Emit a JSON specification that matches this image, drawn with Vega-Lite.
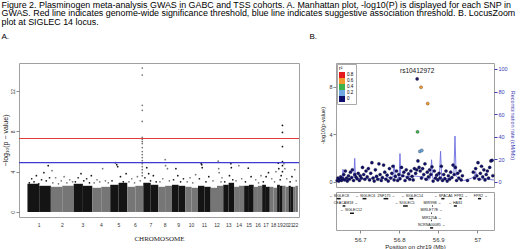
{
"$schema":"https://vega.github.io/schema/vega-lite/v6.json",
"padding":0,
"background":"white",
"config":{"font":"Liberation Sans","view":{"stroke":"#a0a0a0"},"axis":{"grid":false,"domain":false,"tickColor":"#888","labelColor":"#333","titleColor":"#222","titleFontWeight":"normal","tickSize":3,"labelPadding":1}},
"title":{"text":["Figure 2. Plasminogen meta-analysis GWAS in GABC and TSS cohorts.  A. Manhattan plot, -log10(P) is displayed for each SNP in","GWAS.  Red line indicates genome-wide significance threshold, blue line indicates suggestive association threshold. B. LocusZoom","plot at SIGLEC 14 locus."],"anchor":"start","frame":"bounds","fontSize":8.9,"fontWeight":"normal","lineHeight":8.5,"offset":6,"color":"#000","dx":1},
"datasets":{
"genes":[
{"label":"← SIGLEC8","mid":56.646,"start":56.640,"end":56.650,"row":1},
{"label":"← SIGLEC6","mid":56.713,"start":56.706,"end":56.716,"row":1},
{"label":"ZNF175 →","mid":56.767,"start":56.760,"end":56.772,"row":1},
{"label":"← SIGLEC14","mid":56.833,"start":56.826,"end":56.836,"row":1},
{"label":"← SPACA6","mid":56.913,"start":56.908,"end":56.916,"row":1},
{"label":"FPR1 ←","mid":56.959,"start":56.954,"end":56.960,"row":1},
{"label":"FPR2 →","mid":57.009,"start":57.002,"end":57.010,"row":1},
{"label":"CEACAM18 →","mid":56.663,"start":56.655,"end":56.662,"row":2},
{"label":"← SIGLEC5","mid":56.814,"start":56.810,"end":56.822,"row":2},
{"label":"MIR99B →","mid":56.885,"start":56.884,"end":56.886,"row":2},
{"label":"← HAS1","mid":56.944,"start":56.940,"end":56.948,"row":2},
{"label":"← SIGLEC12","mid":56.677,"start":56.674,"end":56.684,"row":3},
{"label":"MIRLET7E →","mid":56.883,"start":56.882,"end":56.884,"row":3},
{"label":"MIR125A →","mid":56.883,"start":56.882,"end":56.884,"row":4},
{"label":"NCRNA00085 →","mid":56.883,"start":56.879,"end":56.887,"row":5}
]
},
"spacing":8,
"resolve":{"scale":{"color":"independent","fill":"independent","x":"independent","y":"independent"},"legend":{"color":"independent","fill":"independent"}},
"hconcat":[
{
"title":{"text":"A.","anchor":"start","fontSize":8,"fontWeight":"normal","offset":22,"frame":"bounds","color":"#000","dx":1},
"spacing":0,
"vconcat":[
{"width":280,"height":154,
"layer":[
{"data":{"values":[
{"chr":1,"band":"odd","x1":0,"x2":125,"h":2.8},{"chr":1,"band":"odd","x1":125,"x2":249,"h":2.6},
{"chr":2,"band":"even","x1":249,"x2":370,"h":2.5},{"chr":2,"band":"even","x1":370,"x2":492,"h":2.6},
{"chr":3,"band":"odd","x1":492,"x2":590,"h":2.8},{"chr":3,"band":"odd","x1":590,"x2":690,"h":2.6},
{"chr":4,"band":"even","x1":690,"x2":785,"h":2.4},{"chr":4,"band":"even","x1":785,"x2":881,"h":2.5},
{"chr":5,"band":"odd","x1":881,"x2":970,"h":2.7},{"chr":5,"band":"odd","x1":970,"x2":1062,"h":2.9},
{"chr":6,"band":"even","x1":1062,"x2":1148,"h":2.5},{"chr":6,"band":"even","x1":1148,"x2":1233,"h":2.6},
{"chr":7,"band":"odd","x1":1233,"x2":1312,"h":2.9},{"chr":7,"band":"odd","x1":1312,"x2":1392,"h":2.7},
{"chr":8,"band":"even","x1":1392,"x2":1465,"h":2.5},{"chr":8,"band":"even","x1":1465,"x2":1538,"h":2.6},
{"chr":9,"band":"odd","x1":1538,"x2":1608,"h":2.7},{"chr":9,"band":"odd","x1":1608,"x2":1679,"h":2.6},
{"chr":10,"band":"even","x1":1679,"x2":1747,"h":2.5},{"chr":10,"band":"even","x1":1747,"x2":1815,"h":2.4},
{"chr":11,"band":"odd","x1":1815,"x2":1882,"h":2.6},{"chr":11,"band":"odd","x1":1882,"x2":1950,"h":2.5},
{"chr":12,"band":"even","x1":1950,"x2":2017,"h":2.4},{"chr":12,"band":"even","x1":2017,"x2":2084,"h":2.6},
{"chr":13,"band":"odd","x1":2084,"x2":2141,"h":2.7},{"chr":13,"band":"odd","x1":2141,"x2":2199,"h":2.9},
{"chr":14,"band":"even","x1":2199,"x2":2252,"h":2.5},{"chr":14,"band":"even","x1":2252,"x2":2306,"h":2.6},
{"chr":15,"band":"odd","x1":2306,"x2":2357,"h":2.6},{"chr":15,"band":"odd","x1":2357,"x2":2408,"h":2.7},
{"chr":16,"band":"even","x1":2408,"x2":2453,"h":2.5},{"chr":16,"band":"even","x1":2453,"x2":2498,"h":2.6},
{"chr":17,"band":"odd","x1":2498,"x2":2538,"h":2.7},{"chr":17,"band":"odd","x1":2538,"x2":2579,"h":2.5},
{"chr":18,"band":"even","x1":2579,"x2":2618,"h":2.5},{"chr":18,"band":"even","x1":2618,"x2":2657,"h":2.4},
{"chr":19,"band":"odd","x1":2657,"x2":2686,"h":2.7},{"chr":19,"band":"odd","x1":2686,"x2":2716,"h":2.6},
{"chr":20,"band":"even","x1":2716,"x2":2747,"h":2.6},{"chr":20,"band":"even","x1":2747,"x2":2779,"h":2.5},
{"chr":21,"band":"odd","x1":2779,"x2":2803,"h":2.6},{"chr":21,"band":"odd","x1":2803,"x2":2827,"h":2.5},
{"chr":22,"band":"even","x1":2827,"x2":2852,"h":2.5},{"chr":22,"band":"even","x1":2852,"x2":2878,"h":2.6}
]},
"mark":{"type":"rect"},
"encoding":{
"x":{"field":"x1","type":"quantitative","scale":{"domain":[-90,2890],"nice":false,"zero":false},"axis":null},
"x2":{"field":"x2"},
"y":{"field":"h","type":"quantitative","scale":{"domain":[-0.5,14.8],"nice":false,"zero":false},
"axis":{"values":[0,1,2,3,4,5,6,7,8,9,10,11,12,13,14],"labelExpr":"datum.value % 2 === 0 ? datum.label : ''","labelAngle":270,"labelFontSize":5,"labelOverlap":false,"title":"−log₁₀(p − value)","titleFontSize":7,"titlePadding":2}},
"y2":{"datum":0},
"color":{"field":"band","type":"nominal","scale":{"domain":["odd","even"],"range":["#141414","#767676"]},"legend":null}
}},
{"data":{"values":[
{"band":"odd","pos":20,"p":2.9},{"band":"odd","pos":45,"p":3.3},{"band":"odd","pos":70,"p":3.0},{"band":"odd","pos":95,"p":3.6},{"band":"odd","pos":120,"p":2.8},{"band":"odd","pos":150,"p":3.2},{"band":"odd","pos":175,"p":3.9},{"band":"odd","pos":200,"p":3.1},{"band":"odd","pos":221,"p":4.6},{"band":"odd","pos":235,"p":3.4},
{"band":"even","pos":262,"p":4.1},{"band":"even","pos":270,"p":2.9},{"band":"even","pos":300,"p":3.4},{"band":"even","pos":330,"p":2.8},{"band":"even","pos":360,"p":3.1},{"band":"even","pos":390,"p":3.5},{"band":"even","pos":420,"p":2.9},{"band":"even","pos":450,"p":3.2},{"band":"even","pos":480,"p":3.0},
{"band":"odd","pos":510,"p":3.0},{"band":"odd","pos":540,"p":3.4},{"band":"odd","pos":570,"p":3.8},{"band":"odd","pos":600,"p":3.1},{"band":"odd","pos":630,"p":3.3},{"band":"odd","pos":660,"p":2.9},{"band":"odd","pos":680,"p":3.6},
{"band":"even","pos":710,"p":2.9},{"band":"even","pos":740,"p":3.2},{"band":"even","pos":770,"p":3.0},{"band":"even","pos":800,"p":4.3},{"band":"even","pos":830,"p":3.1},{"band":"even","pos":860,"p":2.9},
{"band":"odd","pos":900,"p":3.1},{"band":"odd","pos":935,"p":4.9},{"band":"odd","pos":950,"p":4.7},{"band":"odd","pos":960,"p":4.5},{"band":"odd","pos":990,"p":3.5},{"band":"odd","pos":1020,"p":3.0},{"band":"odd","pos":1050,"p":3.8},
{"band":"even","pos":1080,"p":3.0},{"band":"even","pos":1110,"p":3.3},{"band":"even","pos":1140,"p":2.9},{"band":"even","pos":1170,"p":3.5},{"band":"even","pos":1200,"p":3.1},
{"band":"even","pos":1222,"p":14.3},{"band":"even","pos":1222,"p":13.6},{"band":"even","pos":1222,"p":10.6},{"band":"even","pos":1222,"p":10.1},{"band":"even","pos":1222,"p":9.0},{"band":"even","pos":1222,"p":7.4},{"band":"even","pos":1222,"p":7.2},{"band":"even","pos":1222,"p":7.0},{"band":"even","pos":1222,"p":6.8},{"band":"even","pos":1222,"p":6.4},{"band":"even","pos":1222,"p":6.0},{"band":"even","pos":1222,"p":5.7},{"band":"even","pos":1222,"p":5.4},{"band":"even","pos":1222,"p":5.1},{"band":"even","pos":1222,"p":4.8},{"band":"even","pos":1222,"p":4.5},{"band":"even","pos":1222,"p":4.2},{"band":"even","pos":1222,"p":3.9},{"band":"even","pos":1222,"p":3.6},
{"band":"odd","pos":1250,"p":3.4},{"band":"odd","pos":1270,"p":4.4},{"band":"odd","pos":1290,"p":3.8},{"band":"odd","pos":1310,"p":3.1},{"band":"odd","pos":1340,"p":3.6},{"band":"odd","pos":1370,"p":3.0},
{"band":"even","pos":1410,"p":3.0},{"band":"even","pos":1440,"p":3.3},{"band":"even","pos":1466,"p":5.2},{"band":"even","pos":1470,"p":4.6},{"band":"even","pos":1490,"p":4.3},{"band":"even","pos":1510,"p":3.1},
{"band":"odd","pos":1555,"p":3.2},{"band":"odd","pos":1580,"p":4.3},{"band":"odd","pos":1600,"p":3.6},{"band":"odd","pos":1630,"p":3.0},{"band":"odd","pos":1660,"p":3.3},
{"band":"even","pos":1700,"p":3.0},{"band":"even","pos":1730,"p":3.4},{"band":"even","pos":1760,"p":2.9},{"band":"even","pos":1790,"p":3.7},
{"band":"odd","pos":1830,"p":3.3},{"band":"odd","pos":1850,"p":4.8},{"band":"odd","pos":1855,"p":4.7},{"band":"odd","pos":1860,"p":4.4},{"band":"odd","pos":1900,"p":3.0},{"band":"odd","pos":1930,"p":3.5},
{"band":"even","pos":1975,"p":3.1},{"band":"even","pos":2030,"p":5.05},{"band":"even","pos":2035,"p":4.3},{"band":"even","pos":2040,"p":3.9},{"band":"even","pos":2060,"p":3.0},{"band":"even","pos":2070,"p":3.4},
{"band":"odd","pos":2100,"p":3.0},{"band":"odd","pos":2150,"p":3.6},{"band":"odd","pos":2165,"p":4.8},{"band":"odd","pos":2170,"p":4.4},{"band":"odd","pos":2185,"p":3.2},
{"band":"even","pos":2220,"p":3.1},{"band":"even","pos":2250,"p":4.6},{"band":"even","pos":2280,"p":3.3},
{"band":"odd","pos":2320,"p":3.0},{"band":"odd","pos":2350,"p":4.35},{"band":"odd","pos":2380,"p":3.5},
{"band":"even","pos":2430,"p":3.2},{"band":"even","pos":2460,"p":2.9},{"band":"even","pos":2485,"p":3.6},
{"band":"odd","pos":2510,"p":3.0},{"band":"odd","pos":2540,"p":3.5},{"band":"odd","pos":2565,"p":3.9},
{"band":"even","pos":2600,"p":3.3},{"band":"even","pos":2630,"p":3.0},{"band":"even","pos":2645,"p":4.0},
{"band":"odd","pos":2670,"p":4.85},{"band":"odd","pos":2675,"p":4.3},{"band":"odd","pos":2690,"p":3.2},{"band":"odd","pos":2700,"p":3.6},
{"band":"odd","pos":2714,"p":8.6},{"band":"odd","pos":2714,"p":7.9},{"band":"odd","pos":2714,"p":6.5},{"band":"odd","pos":2714,"p":5.0},{"band":"odd","pos":2714,"p":4.6},{"band":"odd","pos":2714,"p":4.0},
{"band":"even","pos":2730,"p":4.8},{"band":"even","pos":2740,"p":4.3},{"band":"even","pos":2760,"p":3.3},
{"band":"odd","pos":2795,"p":3.0},{"band":"odd","pos":2815,"p":3.5},
{"band":"even","pos":2845,"p":4.2},{"band":"even","pos":2860,"p":3.1}
]},
"mark":{"type":"circle","size":3,"opacity":1},
"encoding":{"x":{"field":"pos","type":"quantitative"},"y":{"field":"p","type":"quantitative"},"color":{"field":"band","type":"nominal","legend":null}}},
{"data":{"values":[{"level":"genome-wide","p":7.3}]},
"mark":{"type":"rule","strokeWidth":1.1},
"encoding":{"y":{"field":"p","type":"quantitative"},"stroke":{"value":"#e23c3c"},"strokeOpacity":{"value":1}}},
{"data":{"values":[{"level":"suggestive","p":4.9}]},
"mark":{"type":"rule","strokeWidth":1.1},
"encoding":{"y":{"field":"p","type":"quantitative"},"stroke":{"value":"#3c3cd2"},"strokeOpacity":{"value":1}}}
]},
{"width":280,"height":14,"view":{"stroke":null},
"data":{"values":[{"chr":"1","mid":125},{"chr":"2","mid":371},{"chr":"3","mid":591},{"chr":"4","mid":786},{"chr":"5","mid":972},{"chr":"6","mid":1148},{"chr":"7","mid":1313},{"chr":"8","mid":1465},{"chr":"9","mid":1609},{"chr":"10","mid":1747},{"chr":"11","mid":1883},{"chr":"12","mid":2017},{"chr":"13","mid":2142},{"chr":"14","mid":2253},{"chr":"15","mid":2357},{"chr":"16","mid":2453},{"chr":"17","mid":2539},{"chr":"18","mid":2618},{"chr":"19","mid":2687},{"chr":"20","mid":2748},{"chr":"21","mid":2803},{"chr":"22","mid":2853}]},
"mark":{"type":"text","fontSize":5,"color":"#333"},
"encoding":{
"x":{"field":"mid","type":"quantitative","scale":{"domain":[-90,2890],"nice":false,"zero":false},"axis":{"labels":false,"ticks":false,"domain":false,"title":"CHROMOSOME","titleFontSize":7,"titlePadding":2,"titleFont":"Liberation Sans Narrow"}},
"text":{"field":"chr"}
}}
]
},
{
"title":{"text":"B.","anchor":"start","fontSize":8,"fontWeight":"normal","offset":22,"frame":"bounds","dx":-11,"color":"#000"},
"spacing":3,
"resolve":{"scale":{"fill":"independent"},"legend":{"fill":"independent"}},
"vconcat":[
{"width":158,"height":124,
"layer":[
{"data":{"values":[
{"pos":56.638,"rate":1},{"pos":56.645,"rate":2},{"pos":56.650,"rate":1},{"pos":56.654,"rate":3},{"pos":56.656,"rate":11},{"pos":56.658,"rate":2},{"pos":56.665,"rate":1.5},{"pos":56.672,"rate":2},{"pos":56.680,"rate":3},{"pos":56.684,"rate":6},{"pos":56.686,"rate":20.7},{"pos":56.688,"rate":4},{"pos":56.695,"rate":3},{"pos":56.705,"rate":2.5},{"pos":56.715,"rate":3},{"pos":56.725,"rate":2},{"pos":56.735,"rate":4},{"pos":56.745,"rate":3},{"pos":56.755,"rate":2.5},{"pos":56.765,"rate":3},{"pos":56.775,"rate":4},{"pos":56.783,"rate":3},{"pos":56.787,"rate":15},{"pos":56.790,"rate":4},{"pos":56.797,"rate":3},{"pos":56.800,"rate":5},{"pos":56.802,"rate":25},{"pos":56.804,"rate":5},{"pos":56.812,"rate":5},{"pos":56.825,"rate":4.5},{"pos":56.840,"rate":5},{"pos":56.855,"rate":4.5},{"pos":56.862,"rate":4.5},{"pos":56.866,"rate":2},{"pos":56.875,"rate":1.5},{"pos":56.880,"rate":3},{"pos":56.883,"rate":19.5},{"pos":56.886,"rate":3},{"pos":56.895,"rate":2},{"pos":56.903,"rate":4},{"pos":56.906,"rate":27},{"pos":56.909,"rate":3},{"pos":56.915,"rate":2},{"pos":56.925,"rate":3},{"pos":56.935,"rate":4},{"pos":56.940,"rate":6},{"pos":56.943,"rate":40.5},{"pos":56.946,"rate":5},{"pos":56.955,"rate":2},{"pos":56.965,"rate":1},{"pos":56.975,"rate":2},{"pos":56.985,"rate":3},{"pos":56.993,"rate":5},{"pos":56.996,"rate":9},{"pos":56.999,"rate":3},{"pos":57.010,"rate":2},{"pos":57.020,"rate":3},{"pos":57.030,"rate":2},{"pos":57.043,"rate":1.5}
]},
"mark":{"type":"line","color":"#6d6de0","strokeWidth":0.9},
"encoding":{
"x":{"field":"pos","type":"quantitative","scale":{"domain":[56.638,57.043],"nice":false,"zero":false},"axis":null},
"y":{"field":"rate","type":"quantitative","scale":{"domain":[-4.7,105.3],"nice":false,"zero":false},"axis":{"orient":"right","values":[0,20,40,60,80,100],"title":"Recombination rate (cM/Mb)","labelColor":"#3c3cb4","titleColor":"#3c3cb4","tickColor":"#3c3cb4","labelFontSize":5.5,"titleFontSize":5.5,"titlePadding":2}}
}},
{"layer":[
{"data":{"values":[
{"pos":56.641,"p":0.1,"ld":"0-0.2"},{"pos":56.643,"p":0.3,"ld":"0-0.2"},{"pos":56.645,"p":0.05,"ld":"0-0.2"},{"pos":56.648,"p":0.2,"ld":"0-0.2"},{"pos":56.650,"p":0.4,"ld":"0-0.2"},{"pos":56.652,"p":0.1,"ld":"0-0.2"},{"pos":56.655,"p":0.25,"ld":"0-0.2"},{"pos":56.658,"p":0.6,"ld":"0-0.2"},{"pos":56.660,"p":0.15,"ld":"0-0.2"},{"pos":56.662,"p":0.9,"ld":"0-0.2"},{"pos":56.665,"p":0.3,"ld":"0-0.2"},{"pos":56.667,"p":0.05,"ld":"0-0.2"},{"pos":56.670,"p":0.5,"ld":"0-0.2"},{"pos":56.672,"p":0.2,"ld":"0-0.2"},{"pos":56.675,"p":0.8,"ld":"0-0.2"},{"pos":56.678,"p":0.35,"ld":"0-0.2"},{"pos":56.680,"p":1.0,"ld":"0-0.2"},{"pos":56.683,"p":0.1,"ld":"0-0.2"},{"pos":56.686,"p":0.6,"ld":"0-0.2"},{"pos":56.689,"p":0.4,"ld":"0-0.2"},{"pos":56.692,"p":0.25,"ld":"0-0.2"},{"pos":56.695,"p":0.7,"ld":"0-0.2"},{"pos":56.698,"p":0.1,"ld":"0-0.2"},{"pos":56.700,"p":0.5,"ld":"0-0.2"},{"pos":56.703,"p":0.3,"ld":"0-0.2"},{"pos":56.706,"p":1.2,"ld":"0-0.2"},{"pos":56.709,"p":0.6,"ld":"0-0.2"},{"pos":56.712,"p":0.2,"ld":"0-0.2"},{"pos":56.715,"p":0.9,"ld":"0-0.2"},{"pos":56.718,"p":0.4,"ld":"0-0.2"},{"pos":56.721,"p":1.1,"ld":"0-0.2"},{"pos":56.724,"p":0.15,"ld":"0-0.2"},{"pos":56.727,"p":0.7,"ld":"0-0.2"},{"pos":56.730,"p":1.6,"ld":"0-0.2"},{"pos":56.733,"p":0.3,"ld":"0-0.2"},{"pos":56.736,"p":0.05,"ld":"0-0.2"},{"pos":56.739,"p":1.0,"ld":"0-0.2"},{"pos":56.742,"p":0.45,"ld":"0-0.2"},{"pos":56.745,"p":0.2,"ld":"0-0.2"},{"pos":56.748,"p":1.5,"ld":"0-0.2"},{"pos":56.751,"p":0.6,"ld":"0-0.2"},{"pos":56.754,"p":0.1,"ld":"0-0.2"},{"pos":56.757,"p":0.35,"ld":"0-0.2"},{"pos":56.760,"p":1.4,"ld":"0-0.2"},{"pos":56.763,"p":0.8,"ld":"0-0.2"},{"pos":56.766,"p":0.2,"ld":"0-0.2"},{"pos":56.769,"p":0.55,"ld":"0-0.2"},{"pos":56.772,"p":0.05,"ld":"0-0.2"},{"pos":56.775,"p":1.1,"ld":"0-0.2"},{"pos":56.778,"p":0.3,"ld":"0-0.2"},{"pos":56.781,"p":0.7,"ld":"0-0.2"},{"pos":56.784,"p":1.3,"ld":"0-0.2"},{"pos":56.787,"p":0.15,"ld":"0-0.2"},{"pos":56.790,"p":0.45,"ld":"0-0.2"},{"pos":56.793,"p":0.9,"ld":"0-0.2"},{"pos":56.796,"p":0.1,"ld":"0-0.2"},{"pos":56.799,"p":0.6,"ld":"0-0.2"},{"pos":56.802,"p":0.25,"ld":"0-0.2"},{"pos":56.806,"p":1.2,"ld":"0-0.2"},{"pos":56.809,"p":0.5,"ld":"0-0.2"},{"pos":56.812,"p":0.8,"ld":"0-0.2"},{"pos":56.815,"p":0.1,"ld":"0-0.2"},{"pos":56.818,"p":1.0,"ld":"0-0.2"},{"pos":56.821,"p":0.35,"ld":"0-0.2"},{"pos":56.824,"p":0.65,"ld":"0-0.2"},{"pos":56.827,"p":0.2,"ld":"0-0.2"},{"pos":56.830,"p":0.9,"ld":"0-0.2"},{"pos":56.833,"p":0.45,"ld":"0-0.2"},{"pos":56.836,"p":0.15,"ld":"0-0.2"},{"pos":56.839,"p":1.1,"ld":"0-0.2"},{"pos":56.842,"p":0.7,"ld":"0-0.2"},{"pos":56.845,"p":1.0,"ld":"0-0.2"},{"pos":56.848,"p":1.75,"ld":"0-0.2"},{"pos":56.851,"p":1.2,"ld":"0-0.2"},{"pos":56.854,"p":0.9,"ld":"0-0.2"},{"pos":56.857,"p":0.3,"ld":"0-0.2"},{"pos":56.860,"p":1.1,"ld":"0-0.2"},{"pos":56.863,"p":0.6,"ld":"0-0.2"},{"pos":56.866,"p":1.5,"ld":"0-0.2"},{"pos":56.869,"p":0.2,"ld":"0-0.2"},{"pos":56.872,"p":0.8,"ld":"0-0.2"},{"pos":56.875,"p":0.4,"ld":"0-0.2"},{"pos":56.878,"p":1.0,"ld":"0-0.2"},{"pos":56.881,"p":0.6,"ld":"0-0.2"},{"pos":56.884,"p":1.25,"ld":"0-0.2"},{"pos":56.887,"p":0.05,"ld":"0-0.2"},{"pos":56.890,"p":0.9,"ld":"0-0.2"},{"pos":56.893,"p":0.3,"ld":"0-0.2"},{"pos":56.896,"p":0.55,"ld":"0-0.2"},{"pos":56.899,"p":0.15,"ld":"0-0.2"},{"pos":56.902,"p":0.7,"ld":"0-0.2"},{"pos":56.905,"p":0.3,"ld":"0-0.2"},{"pos":56.908,"p":1.3,"ld":"0-0.2"},{"pos":56.911,"p":0.1,"ld":"0-0.2"},{"pos":56.914,"p":0.6,"ld":"0-0.2"},{"pos":56.917,"p":0.25,"ld":"0-0.2"},{"pos":56.920,"p":0.9,"ld":"0-0.2"},{"pos":56.923,"p":0.05,"ld":"0-0.2"},{"pos":56.926,"p":0.5,"ld":"0-0.2"},{"pos":56.929,"p":0.2,"ld":"0-0.2"},{"pos":56.932,"p":0.8,"ld":"0-0.2"},{"pos":56.935,"p":0.35,"ld":"0-0.2"},{"pos":56.938,"p":1.4,"ld":"0-0.2"},{"pos":56.941,"p":0.6,"ld":"0-0.2"},{"pos":56.944,"p":1.2,"ld":"0-0.2"},{"pos":56.947,"p":0.1,"ld":"0-0.2"},{"pos":56.950,"p":0.7,"ld":"0-0.2"},{"pos":56.953,"p":0.3,"ld":"0-0.2"},{"pos":56.956,"p":0.9,"ld":"0-0.2"},{"pos":56.959,"p":0.15,"ld":"0-0.2"},{"pos":56.962,"p":0.5,"ld":"0-0.2"},{"pos":56.975,"p":0.1,"ld":"0-0.2"},{"pos":56.990,"p":0.8,"ld":"0-0.2"},{"pos":56.993,"p":0.3,"ld":"0-0.2"},{"pos":56.996,"p":1.1,"ld":"0-0.2"},{"pos":56.999,"p":0.5,"ld":"0-0.2"},{"pos":57.002,"p":1.6,"ld":"0-0.2"},{"pos":57.005,"p":0.2,"ld":"0-0.2"},{"pos":57.008,"p":0.7,"ld":"0-0.2"},{"pos":57.011,"p":1.3,"ld":"0-0.2"},{"pos":57.014,"p":0.4,"ld":"0-0.2"},{"pos":57.017,"p":1.0,"ld":"0-0.2"},{"pos":57.020,"p":0.15,"ld":"0-0.2"},{"pos":57.023,"p":0.6,"ld":"0-0.2"},{"pos":57.026,"p":0.9,"ld":"0-0.2"},{"pos":57.029,"p":0.3,"ld":"0-0.2"},{"pos":57.032,"p":1.2,"ld":"0-0.2"},{"pos":57.035,"p":1.75,"ld":"0-0.2"},{"pos":57.038,"p":1.8,"ld":"0-0.2"},{"pos":57.040,"p":0.5,"ld":"0-0.2"},
{"pos":56.853,"p":2.55,"ld":"0.2-0.4"},{"pos":56.858,"p":2.63,"ld":"0.2-0.4"},
{"pos":56.847,"p":4.2,"ld":"0.4-0.6"},
{"pos":56.873,"p":6.58,"ld":"0.6-0.8"},{"pos":56.856,"p":7.96,"ld":"0.6-0.8"},
{"pos":56.846,"p":8.66,"ld":"ref"}
]},
"mark":{"type":"point","filled":true,"size":10,"opacity":1,"stroke":"#222","strokeWidth":0.3},
"encoding":{
"x":{"field":"pos","type":"quantitative"},
"y":{"field":"p","type":"quantitative","scale":{"domain":[-0.45,10],"nice":false,"zero":false},"axis":{"orient":"left","values":[0,2,4,6,8,10],"title":"-log10(p-value)","labelFontSize":5.5,"titleFontSize":5.5,"titlePadding":3}},
"fill":{"field":"ld","type":"nominal","scale":{"domain":["0.8-1","0.6-0.8","0.4-0.6","0.2-0.4","0-0.2","ref"],"range":["#e41a1c","#f39a2e","#3cb34a","#6fa8e0","#0d0d6b","#1b1464"]},
"legend":{"orient":"top-left","values":["0.8-1","0.6-0.8","0.4-0.6","0.2-0.4","0-0.2"],"title":"r²","titleFontSize":5,"titleFontWeight":"normal","labelFontSize":4.5,"symbolType":"square","symbolSize":36,"symbolStrokeWidth":0,"symbolOpacity":1,"labelExpr":"split(datum.label,'-')[0]","padding":2,"offset":1,"strokeColor":"#aaaaaa","fillColor":"white","rowPadding":0,"labelOffset":2,"titlePadding":1}}
}},
{"data":{"values":[{"snp":"rs10412972","pos":56.846,"p":9.35}]},
"mark":{"type":"text","fontSize":6.5,"color":"#111"},
"encoding":{"x":{"field":"pos","type":"quantitative"},"y":{"field":"p","type":"quantitative"},"text":{"field":"snp"}}}
]}
],
"resolve":{"scale":{"y":"independent"}}
},
{"width":158,"height":38,
"layer":[
{"data":{"name":"genes"},
"mark":{"type":"rule","color":"#111","strokeWidth":1.5,"yOffset":3},
"encoding":{
"x":{"field":"start","type":"quantitative","scale":{"domain":[56.638,57.043],"nice":false,"zero":false},"axis":{"values":[56.7,56.8,56.9,57],"labelExpr":"datum.value","labelFontSize":6,"labelPadding":3,"title":"Position on chr19 (Mb)","titleFontSize":6,"titlePadding":1}},
"x2":{"field":"end"},
"y":{"field":"row","type":"quantitative","scale":{"domain":[5.7,0.5],"nice":false,"zero":false},"axis":null}
}},
{"data":{"name":"genes"},
"mark":{"type":"text","fontSize":3.6,"color":"#111"},
"encoding":{"x":{"field":"mid","type":"quantitative"},"y":{"field":"row","type":"quantitative"},"text":{"field":"label"}}}
]}
]
}
]
}
